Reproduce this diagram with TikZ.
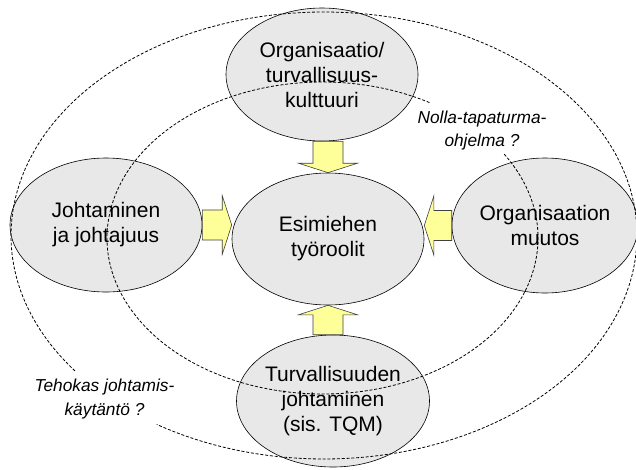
\documentclass[tikz,border=0pt]{standalone}
\usepackage{fontspec}
\setmainfont{Liberation Sans}
\usetikzlibrary{shapes.geometric,calc}
\definecolor{bubblefill}{RGB}{232,232,232}
\definecolor{arrowfill}{RGB}{255,255,153}

% Block arrow from tail coordinate #1 to tip coordinate #2
\newcommand\blockarrow[2]{%
  \coordinate (ba-h) at ($(#2)!9.5pt!(#1)$);
  \filldraw[blockarrow]
    ($(#1)!15pt!90:(#2)$) -- ($(ba-h)!15pt!90:(#2)$) -- ($(ba-h)!29.5pt!90:(#2)$)
    -- (#2)
    -- ($(ba-h)!29.5pt!-90:(#2)$) -- ($(ba-h)!15pt!-90:(#2)$) -- ($(#1)!15pt!-90:(#2)$)
    -- cycle;
}

\begin{document}
\begin{tikzpicture}[x=1pt,y=-1pt,
  bubble/.style={ellipse, draw=black, line width=0.6pt, fill=bubblefill,
    inner sep=0pt, align=center, font=\fontsize{21}{25}\selectfont},
  note/.style={align=center, font=\fontsize{17.3}{23}\selectfont\itshape},
  ring/.style={draw=black, line width=0.8pt, dash pattern=on 3pt off 1.8pt},
  blockarrow/.style={draw=black!75, line width=0.6pt, fill=arrowfill, line join=miter}]
\useasboundingbox (0,0) rectangle (636,469);
\fill[white] (0,0) rectangle (636,469);

% Five topic bubbles
\node[bubble, minimum width=192, minimum height=133] (culture) at (322,74.5)
  {Organisaatio/\\turvallisuus-\\kulttuuri};
\node[bubble, minimum width=192, minimum height=132] (role) at (328,239)
  {Esimiehen\\työroolit};
\node[bubble, minimum width=192, minimum height=134] (lead) at (106,225)
  {Johtaminen\\ja johtajuus};
\node[bubble, minimum width=186, minimum height=135] (change) at (545,225.5)
  {Organisaation\\muutos};
\node[bubble, minimum width=193, minimum height=132] (safety) at (333,401)
  {Turvallisuuden\\johtaminen\\(sis. TQM)};

% Influence arrows towards the central bubble
\coordinate (a-top) at (role.north |- culture.south);
\coordinate (a-bot) at (role.south |- safety.north);
\coordinate (a-left) at (role.west |- lead.east);
\coordinate (a-right) at (role.east |- change.west);
\blockarrow{a-top}{role.north}
\blockarrow{a-bot}{role.south}
\blockarrow{lead.east}{a-left}
\blockarrow{change.west}{a-right}

% Dashed framework rings, open where their captions sit
\draw[ring] (324,235.5) ++(142.7:313 and 223.5)
  arc[start angle=142.7, end angle=482.3, x radius=313, y radius=223.5];
\draw[ring] (322.5,238) ++(-32.5:215.5 and 156)
  arc[start angle=-32.5, end angle=300, x radius=215.5, y radius=156];

% Ring captions
\node[note] (zeroacc) at (482,131) {Nolla-tapaturma-\\ohjelma ?};
\node[note, font=\fontsize{17.3}{24}\selectfont\itshape] (practice) at (104.5,399.5)
  {Tehokas johtamis-\\käytäntö ?};
\end{tikzpicture}
\end{document}
